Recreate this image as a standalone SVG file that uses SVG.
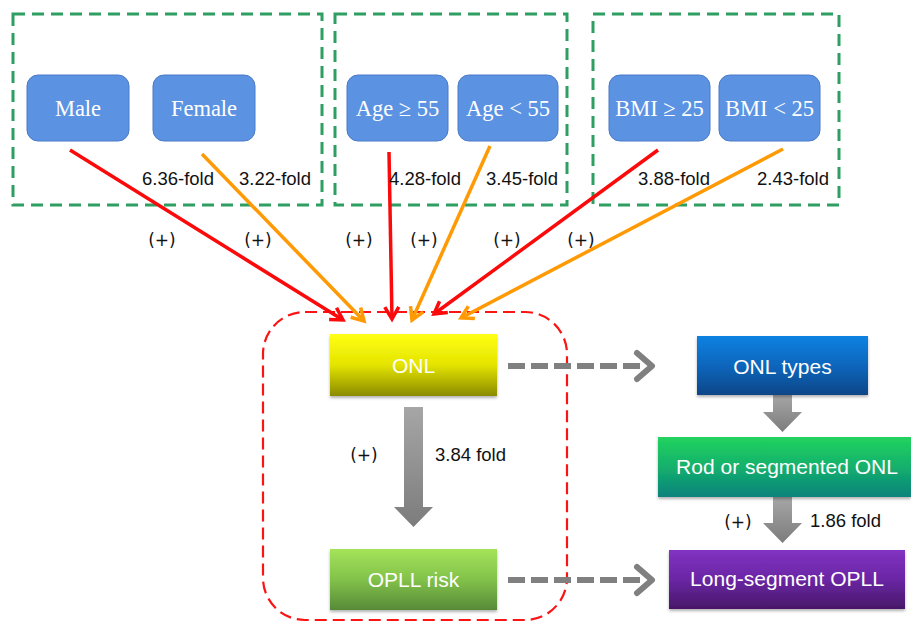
<svg xmlns="http://www.w3.org/2000/svg" width="911" height="623" viewBox="0 0 911 623">
<style>
.grp{fill:none;stroke:#2e9e63;stroke-width:3;stroke-dasharray:12 7}
.fac{fill:#5b93e2;stroke:#4a7ac8;stroke-width:1}
.ft{font-family:"Liberation Serif",serif;font-size:22.5px;fill:#ffffff;text-anchor:middle}
.lbl{font-family:"Liberation Sans",Arial,sans-serif;font-size:18.5px;fill:#111111}
.plus{font-family:"DejaVu Sans",sans-serif;font-size:17px;fill:#111111;text-anchor:middle}
.bt{font-family:"Liberation Sans",Arial,sans-serif;font-size:21px;fill:#ffffff;text-anchor:middle}
.red{stroke:#fa0a0a;stroke-width:3.5;fill:none}
.org{stroke:#ff9a05;stroke-width:3.5;fill:none}
.dash{stroke:#808080;stroke-width:6;fill:none;stroke-dasharray:17 6}
.chev{stroke:#808080;stroke-width:6;fill:none;stroke-linecap:round;stroke-linejoin:round}
</style>
<defs>
<marker id="mr" markerUnits="userSpaceOnUse" viewBox="-16 -10 20 20" markerWidth="20" markerHeight="20" refX="0" refY="0" orient="auto">
<path d="M-12,-7 L0,0 L-12,7" fill="none" stroke="#fa0a0a" stroke-width="3.5" stroke-linejoin="miter"/>
</marker>
<marker id="mo" markerUnits="userSpaceOnUse" viewBox="-16 -10 20 20" markerWidth="20" markerHeight="20" refX="0" refY="0" orient="auto">
<path d="M-12,-7 L0,0 L-12,7" fill="none" stroke="#ff9a05" stroke-width="3.5" stroke-linejoin="miter"/>
</marker>
<linearGradient id="gY" x1="0" y1="0" x2="0" y2="1"><stop offset="0" stop-color="#ffff14"/><stop offset="0.5" stop-color="#e4e400"/><stop offset="1" stop-color="#8a8a06"/></linearGradient>
<linearGradient id="gG" x1="0" y1="0" x2="0" y2="1"><stop offset="0" stop-color="#a4e35a"/><stop offset="0.5" stop-color="#82c24a"/><stop offset="1" stop-color="#578a38"/></linearGradient>
<linearGradient id="gB" x1="0" y1="0" x2="0" y2="1"><stop offset="0" stop-color="#0b82e2"/><stop offset="0.5" stop-color="#0a66bc"/><stop offset="1" stop-color="#0c4688"/></linearGradient>
<linearGradient id="gT" x1="0" y1="0" x2="0" y2="1"><stop offset="0" stop-color="#22d35e"/><stop offset="0.5" stop-color="#14b06c"/><stop offset="1" stop-color="#0a827c"/></linearGradient>
<linearGradient id="gP" x1="0" y1="0" x2="0" y2="1"><stop offset="0" stop-color="#8232c2"/><stop offset="0.5" stop-color="#6a26a4"/><stop offset="1" stop-color="#471868"/></linearGradient>
<linearGradient id="gA" x1="0" y1="0" x2="0" y2="1"><stop offset="0" stop-color="#a6a6a6"/><stop offset="1" stop-color="#7c7c7c"/></linearGradient>
<filter id="sh" x="-10%" y="-10%" width="120%" height="130%"><feDropShadow dx="0" dy="2" stdDeviation="1.5" flood-color="#000" flood-opacity="0.3"/></filter>
</defs>

<g id="groups">
<rect class="grp" x="13" y="14" width="309" height="191"/>
<rect class="grp" x="335" y="14" width="232" height="191"/>
<rect class="grp" x="593" y="14" width="246" height="191"/>
<rect x="263" y="312" width="304" height="308" rx="42" fill="none" stroke="#fa1414" stroke-width="2.2" stroke-dasharray="12 6"/>
</g>

<g id="connectors">
<line class="red" x1="70" y1="150" x2="343" y2="320" marker-end="url(#mr)"/>
<line class="org" x1="202" y1="154" x2="364" y2="321" marker-end="url(#mo)"/>
<line class="red" x1="389" y1="152" x2="392" y2="319" marker-end="url(#mr)"/>
<line class="org" x1="490" y1="146" x2="412" y2="320" marker-end="url(#mo)"/>
<line class="red" x1="658" y1="150" x2="434" y2="314" marker-end="url(#mr)"/>
<line class="org" x1="783" y1="149" x2="461" y2="318" marker-end="url(#mo)"/>
<polygon points="404,407 423,407 423,507 433,507 413.5,527 394,507 404,507" fill="url(#gA)"/>
<polygon points="773,395 792,395 792,412 802,412 782.5,432 763,412 773,412" fill="url(#gA)"/>
<polygon points="773,497 792,497 792,523 802,523 782.5,543 763,523 773,523" fill="url(#gA)"/>
<line class="dash" x1="508" y1="366" x2="646" y2="366"/>
<path class="chev" d="M637,353 L652,366 L637,379"/>
<line class="dash" x1="508" y1="580" x2="646" y2="580"/>
<path class="chev" d="M637,567 L652,580 L637,593"/>
</g>

<g id="labels">
<text class="lbl" x="142" y="185">6.36-fold</text>
<text class="lbl" x="239" y="185">3.22-fold</text>
<text class="lbl" x="389" y="185">4.28-fold</text>
<text class="lbl" x="486" y="185">3.45-fold</text>
<text class="lbl" x="638" y="185">3.88-fold</text>
<text class="lbl" x="757" y="185">2.43-fold</text>
<text class="plus" x="162" y="246">(+)</text>
<text class="plus" x="258" y="246">(+)</text>
<text class="plus" x="359" y="246">(+)</text>
<text class="plus" x="424" y="246">(+)</text>
<text class="plus" x="507" y="246">(+)</text>
<text class="plus" x="581" y="246">(+)</text>
<text class="plus" x="364" y="461">(+)</text>
<text class="lbl" x="435" y="461">3.84 fold</text>
<text class="plus" x="738" y="528">(+)</text>
<text class="lbl" x="810" y="527">1.86 fold</text>
</g>

<g id="male"><rect class="fac" x="27" y="75" width="102" height="66" rx="11"/><text class="ft" x="78" y="116">Male</text></g>
<g id="female"><rect class="fac" x="153" y="75" width="102" height="66" rx="11"/><text class="ft" x="204" y="116">Female</text></g>
<g id="age-ge55"><rect class="fac" x="347" y="75" width="101" height="66" rx="11"/><text class="ft" x="397.5" y="116">Age ≥ 55</text></g>
<g id="age-lt55"><rect class="fac" x="458" y="75" width="100" height="66" rx="11"/><text class="ft" x="508" y="116">Age &lt; 55</text></g>
<g id="bmi-ge25"><rect class="fac" x="609" y="75" width="101" height="66" rx="11"/><text class="ft" x="659.5" y="116">BMI ≥ 25</text></g>
<g id="bmi-lt25"><rect class="fac" x="719" y="75" width="101" height="66" rx="11"/><text class="ft" x="769.5" y="116">BMI &lt; 25</text></g>

<g id="onl"><rect x="330" y="334" width="167" height="62" fill="url(#gY)" filter="url(#sh)"/><text class="bt" x="413.5" y="373">ONL</text></g>
<g id="opll-risk"><rect x="330" y="549" width="167" height="61" fill="url(#gG)" filter="url(#sh)"/><text class="bt" x="413.5" y="587">OPLL risk</text></g>
<g id="onl-types"><rect x="697" y="336" width="171" height="59" fill="url(#gB)" filter="url(#sh)"/><text class="bt" x="782.5" y="374">ONL types</text></g>
<g id="rod-segmented"><rect x="658" y="437" width="253" height="60" fill="url(#gT)" filter="url(#sh)"/><text class="bt" x="787" y="474">Rod or segmented ONL</text></g>
<g id="long-segment"><rect x="669" y="550" width="236" height="59" fill="url(#gP)" filter="url(#sh)"/><text class="bt" x="787" y="586">Long-segment OPLL</text></g>
</svg>
